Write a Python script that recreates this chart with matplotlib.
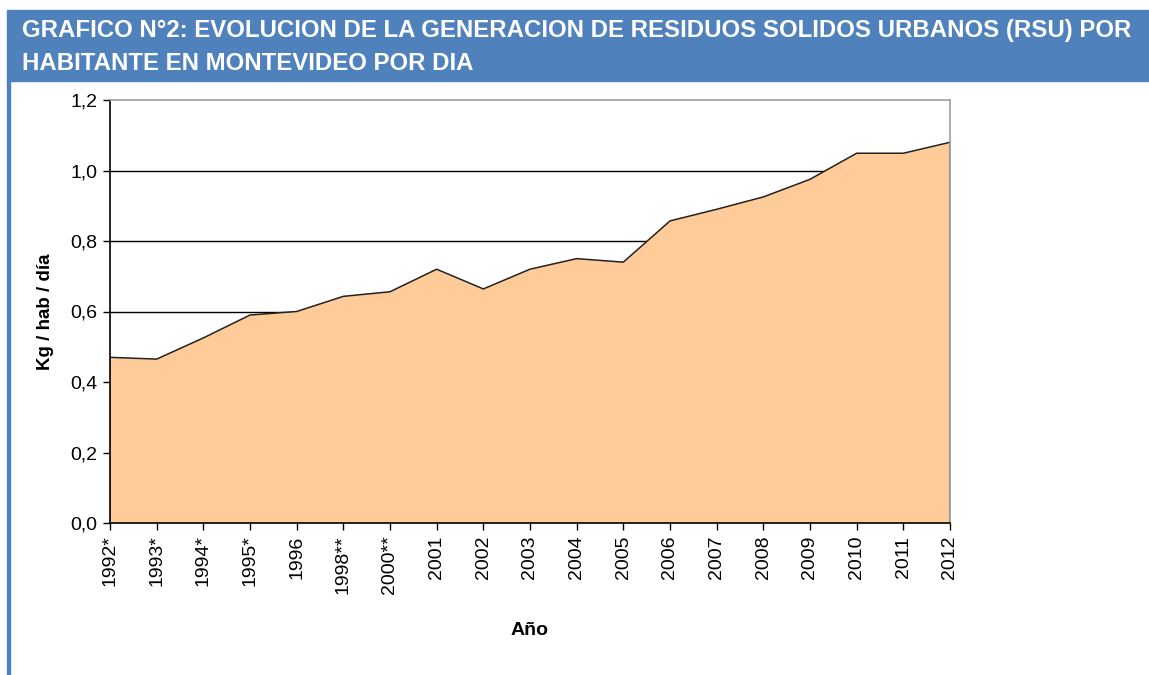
import matplotlib
matplotlib.use("Agg")
import matplotlib.pyplot as plt
from matplotlib.patches import Rectangle

#Data (kg / hab / dia)
years = ["1992*", "1993*", "1994*", "1995*", "1996", "1998**", "2000**",
         "2001", "2002", "2003", "2004", "2005", "2006", "2007", "2008",
         "2009", "2010", "2011", "2012"]
kg_hab_dia = [0.47, 0.465, 0.525, 0.59, 0.60, 0.643, 0.656,
              0.72, 0.664, 0.72, 0.75, 0.74, 0.857, 0.89, 0.925,
              0.975, 1.049, 1.049, 1.08]
y_ticks = [0.0, 0.2, 0.4, 0.6, 0.8, 1.0, 1.2]
y_tick_labels = ["0,0", "0,2", "0,4", "0,6", "0,8", "1,0", "1,2"]

W, H = 1149, 675
fig = plt.figure(figsize=(W / 100, H / 100), dpi=100)

#Blue header band + left border line
blue = "#4F81BD"
fig.patches.append(Rectangle((7 / W, 1 - 81 / H), (W - 7) / W, 71 / H,
                             transform=fig.transFigure, color=blue, zorder=0))
fig.patches.append(Rectangle((7 / W, 0), 3 / W, 1 - 81 / H,
                             transform=fig.transFigure, color=blue, zorder=0))

title_font = ["Liberation Sans Narrow", "Liberation Sans"]
t1 = fig.text(22 / W, 1 - 31 / H,
              "GRAFICO N°2: EVOLUCION DE LA GENERACION DE RESIDUOS SOLIDOS URBANOS (RSU) POR",
              color="white", fontsize=19.5, weight="bold", family=title_font, va="center")
t2 = fig.text(22 / W, 1 - 63 / H, "HABITANTE EN MONTEVIDEO POR DIA",
              color="white", fontsize=19.5, weight="bold", family=title_font, va="center")

#fit first title line to the width it has in the original (no narrow font here)
renderer = fig.canvas.get_renderer()
w1 = t1.get_window_extent(renderer).width
scale = 1114 / w1
if scale < 1:
    t1.set_fontsize(19.5 * scale)
    t2.set_fontsize(19.5 * scale)

#Plot area
ax = fig.add_axes([110 / W, 1 - 523 / H, 840 / W, 423 / H])
x = list(range(len(years)))
ax.fill_between(x, kg_hab_dia, 0, facecolor="#FFCC99", edgecolor="none", zorder=2)
ax.plot(x, kg_hab_dia, color="#222222", lw=1.1, zorder=3)
ax.plot([x[-1], x[-1]], [0, kg_hab_dia[-1]], color="#222222", lw=1.1, zorder=3)

ax.set_xlim(0, len(years) - 1)
ax.set_ylim(0, 1.2)
ax.set_yticks(y_ticks)
ax.set_yticklabels(y_tick_labels, family="Liberation Sans", fontsize=14)
ax.set_xticks(x)
ax.set_xticklabels(years, rotation=90, family="Liberation Sans", fontsize=14)
ax.tick_params(axis="both", direction="out", length=5, width=1, color="black", pad=4)

#Horizontal gridlines behind the area
for v in y_ticks[1:-1]:
    ax.axhline(v, color="black", lw=1, zorder=1)

ax.spines["left"].set_color("black")
ax.spines["bottom"].set_color("black")
ax.spines["top"].set_color("#A0A0A0")
ax.spines["right"].set_color("#A0A0A0")
for s in ax.spines.values():
    s.set_linewidth(1.2)
    s.set_zorder(4)

ax.set_ylabel("Kg / hab / día", fontsize=13.5, weight="bold", family="Liberation Sans",
              labelpad=12)
ax.set_xlabel("Año", fontsize=14, weight="bold", family="Liberation Sans", labelpad=20)

plt.savefig("out.png", dpi=100)
plt.close()
